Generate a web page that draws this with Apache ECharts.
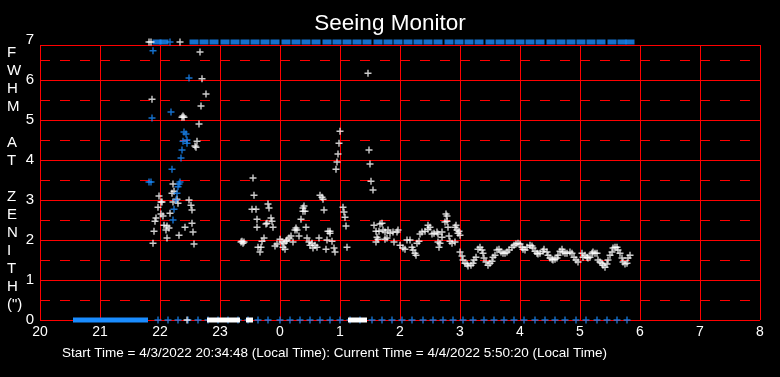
<!DOCTYPE html>
<html>
<head>
<meta charset="utf-8">
<script src="https://cdn.jsdelivr.net/npm/echarts@6/dist/echarts.min.js"></script>
<style>
html, body { margin: 0; background: #000; }
#main { width: 780px; height: 377px; }
</style>
</head>
<body>
<div id="main"></div>
<script>
// x = minutes after 20:00 local time, y = FWHM at zenith (arcsec)
var startHour = 20;
var topValue = 6.95;    // readings off the top of the scale
var bottomValue = 0;    // no reading

// white monitor, single readings
var whitePts = [
    [109, 6.95], [111, 6.95], [140, 6.95], [160, 6.7], [162, 6.03], [166, 5.65], [112, 5.52], [161, 5.35],
    [142, 5.07], [144, 5.07], [143, 5.1], [159, 4.9], [157, 4.47], [155, 4.35], [156, 4.32],
    [133, 3.4], [134, 3.22], [132, 3.17], [119, 3.1], [137, 3.02], [133, 2.95], [138, 2.92], [121, 2.95], [122, 2.95],
    [149, 3.0], [151, 2.87], [152, 2.75], [118, 2.82], [130, 2.67], [121, 2.65], [123, 2.6], [116, 2.55], [115, 2.47],
    [152, 2.42], [124, 2.37], [127, 2.35], [129, 2.3], [145, 2.32], [126, 2.25], [114, 2.22], [153, 2.2], [139, 2.12],
    [127, 2.05], [113, 1.92], [154, 1.9],
    [201, 1.95], [204, 1.95], [202, 1.97], [203, 1.92],
    [213, 3.55], [214, 3.12], [212, 2.77], [216, 2.77], [217, 2.52], [217, 2.32], [218, 1.82], [221, 1.82], [220, 1.7],
    [224, 2.05], [222, 1.97], [228, 2.9], [229, 2.8], [231, 2.55], [232, 2.47], [233, 2.32], [226, 2.4], [227, 2.42],
    [235, 1.85], [237, 1.9], [240, 2.02], [242, 1.95], [243, 1.82], [245, 1.77], [246, 1.97], [244, 1.92],
    [247, 2.0], [249, 2.05], [251, 2.1], [253, 1.95], [255, 2.25], [256, 2.3], [257, 2.25], [259, 2.1], [261, 2.52],
    [263, 2.72], [264, 2.85], [265, 2.72], [263, 2.8], [266, 2.32], [267, 2.05], [269, 1.95], [270, 1.87], [272, 1.92],
    [273, 1.8], [275, 1.87], [277, 1.82], [279, 2.05], [280, 3.12], [282, 3.07], [283, 3.02], [284, 2.75], [286, 1.77],
    [287, 2.0], [288, 2.22], [290, 2.22], [290, 2.17], [292, 1.97], [294, 1.8], [295, 1.7],
    [296, 3.77], [297, 3.95], [298, 4.15], [299, 4.42], [300, 4.72], [303, 2.82], [304, 2.7], [305, 2.57], [306, 2.35], [307, 1.82],
    [328, 6.17], [329, 4.25], [330, 3.9], [331, 3.47], [333, 3.25], [334, 2.37], [336, 2.22], [339, 2.22], [340, 2.4], [342, 2.42],
    [343, 2.25], [345, 2.2], [348, 2.25], [350, 2.17], [353, 2.2], [357, 2.2], [358, 2.25], [337, 2.07], [338, 2.02], [336, 1.95],
    [347, 2.05], [345, 2.02], [354, 1.95], [360, 1.87], [363, 1.8], [365, 1.77], [367, 2.0], [370, 2.0],
    [372, 1.82], [373, 1.75], [375, 1.67], [376, 1.62], [377, 1.92], [379, 1.97], [380, 2.15], [382, 2.2], [385, 2.22],
    [388, 2.27], [388, 2.37], [390, 2.32], [392, 2.15], [394, 2.17], [397, 2.2], [398, 2.15], [398, 1.95], [400, 1.92], [399, 1.82],
    [402, 2.2], [402, 2.07], [405, 2.45], [407, 2.47], [406, 2.65], [407, 2.6], [408, 2.32], [409, 2.1], [410, 1.97], [412, 1.92],
    [415, 1.95], [416, 2.37], [415, 2.32], [417, 2.25], [418, 2.17], [420, 2.12], [419, 2.22],
    [420, 1.7], [422, 1.6], [423, 1.5], [425, 1.42], [427, 1.4], [428, 1.35], [431, 1.37], [433, 1.42], [434, 1.5], [436, 1.57],
    [438, 1.77], [440, 1.82], [442, 1.75], [443, 1.67], [444, 1.55], [446, 1.45], [448, 1.37], [450, 1.42], [452, 1.47], [453, 1.57],
    [455, 1.62], [457, 1.75], [459, 1.77], [461, 1.7], [463, 1.67], [465, 1.67], [467, 1.7], [469, 1.75], [472, 1.82], [474, 1.87],
    [476, 1.9], [478, 1.92], [480, 1.9], [482, 1.82], [483, 1.77], [485, 1.75], [487, 1.82], [490, 1.87], [492, 1.85], [493, 1.8],
    [495, 1.72], [497, 1.67], [498, 1.65], [500, 1.67], [503, 1.72], [504, 1.77], [507, 1.7], [508, 1.62], [510, 1.55], [512, 1.52],
    [513, 1.5], [515, 1.52], [517, 1.55], [518, 1.62], [520, 1.72], [522, 1.77], [523, 1.7], [525, 1.67], [527, 1.67], [530, 1.7],
    [532, 1.67], [534, 1.57], [536, 1.5], [538, 1.45],
    [542, 1.67], [543, 1.57], [545, 1.62], [547, 1.57], [548, 1.55], [550, 1.57], [552, 1.67], [553, 1.7], [555, 1.67], [557, 1.67],
    [558, 1.5], [560, 1.45], [562, 1.42], [563, 1.37], [565, 1.32], [567, 1.4], [568, 1.5], [570, 1.62], [572, 1.7], [573, 1.8],
    [575, 1.82], [577, 1.82], [578, 1.75], [580, 1.67], [582, 1.55], [583, 1.45], [585, 1.4], [587, 1.42], [588, 1.55], [590, 1.62]
];
var whiteBottom = [147];
var whiteBands = [[167, 200], [206, 213], [308, 327]];

// blue monitor
var bluePts = [
    [113, 6.73], [149, 6.05], [131, 5.2], [112, 5.05], [144, 4.7], [146, 4.65], [143, 4.47], [147, 4.5], [147, 4.42],
    [142, 4.25], [141, 4.05], [132, 3.77], [109, 3.45], [111, 3.45], [140, 3.45], [139, 3.4], [138, 3.33],
    [137, 3.17], [136, 3.0], [134, 2.77], [133, 2.5], [130, 6.95]
];
var blueTop = [117, 124, 154, 164, 174, 185, 195, 205, 215, 225, 235, 246, 256, 266, 276, 287, 297, 307, 317, 327,
    338, 348, 358, 368, 378, 388, 398, 409, 419, 429, 439, 450, 460, 470, 480, 490, 500, 511, 521, 531, 541, 551,
    561, 572, 582, 590];
var blueBottom = [118, 128, 138, 148, 158, 168, 178, 188, 198, 208, 218, 228, 240, 250, 260, 270, 280, 290, 300, 310,
    320, 332, 342, 352, 362, 372, 383, 393, 403, 413, 423, 433, 444, 454, 464, 474, 484, 495, 505, 515, 525, 536,
    546, 557, 567, 577, 587];
var blueBands = [[33, 108]];

var white = '#ffffff';
var blue = '#1a8cff';
var red = '#ff0000';
var plus = 'path://M4,0H6V4H10V6H6V10H4V6H0V4H4Z';
var font = 'Liberation Sans, Arial, sans-serif';

var chart = echarts.init(document.getElementById('main'));

function bandSeries(bands, color, z) {
    return bands.map(function (b) {
        return {
            type: 'line', xAxisIndex: 0, yAxisIndex: 0,
            data: [[b[0], bottomValue], [b[1], bottomValue]],
            symbol: 'none', clip: false, silent: true, z: z,
            lineStyle: { color: color, width: 5 }
        };
    });
}

function plusSeries(data, color, z) {
    return {
        type: 'scatter', xAxisIndex: 0, yAxisIndex: 0,
        data: data, symbol: plus, symbolSize: 7, clip: false, silent: true, z: z,
        itemStyle: { color: color }
    };
}

var series = [].concat(
    bandSeries(blueBands, blue, 3),
    [
        {
            type: 'scatter', xAxisIndex: 0, yAxisIndex: 0,
            data: blueTop.map(function (m) { return [m, topValue]; }),
            symbol: 'rect', symbolSize: [9, 5], clip: false, silent: true, z: 3,
            itemStyle: { color: blue }
        },
        plusSeries(blueBottom.map(function (m) { return [m, bottomValue]; }), blue, 4),
        plusSeries(whiteBottom.map(function (m) { return [m, bottomValue]; }), white, 4),
        plusSeries(whitePts, white, 4),
        plusSeries(bluePts, blue, 5)
    ],
    bandSeries(whiteBands, white, 6)
);

var option = {
    backgroundColor: '#000',
    animation: false,
    title: {
        text: 'Seeing Monitor',
        left: 'center',
        top: 7,
        textStyle: { color: white, fontSize: 22.5, fontWeight: 'normal', fontFamily: font }
    },
    grid: [
        { left: 40, right: 20, top: 40, bottom: 57 },   // data
        { left: 40, right: 20, top: 45, bottom: 57 }    // frame
    ],
    xAxis: [{
        type: 'value', gridIndex: 0, min: 0, max: 720, interval: 60,
        axisLine: { show: false }, axisTick: { show: false }, splitLine: { show: false },
        axisLabel: {
            color: white, fontSize: 14, fontFamily: font, margin: 5,
            formatter: function (v) { return String((startHour + v / 60) % 24); }
        }
    }, {
        type: 'value', gridIndex: 1, min: 0, max: 720, interval: 60,
        axisLine: { show: false }, axisTick: { show: false }, axisLabel: { show: false },
        splitLine: { show: true, lineStyle: { color: red, width: 1 } }
    }],
    yAxis: [{
        type: 'value', gridIndex: 0, min: 0, max: 7, interval: 1,
        axisLine: { show: false }, axisTick: { show: false }, splitLine: { show: false },
        axisLabel: { color: white, fontSize: 15, fontFamily: font, margin: 6 }
    }, {
        type: 'value', gridIndex: 1, min: 0, max: 6.875, interval: 1,
        axisLine: { show: false }, axisTick: { show: false }, axisLabel: { show: false },
        splitLine: { show: true, lineStyle: { color: red, width: 1 } }
    }, {
        type: 'value', gridIndex: 1, min: 0, max: 6.875, interval: 0.5,
        axisLine: { show: false }, axisTick: { show: false }, axisLabel: { show: false },
        splitLine: { show: true, lineStyle: { color: red, width: 1, type: [10, 10] } }
    }],
    graphic: [{
        type: 'text', left: 7, top: 44,
        style: {
            text: 'F\nW\nH\nM\n\nA\nT\n\nZ\nE\nN\nI\nT\nH\n(")',
            fill: white, font: '15px ' + font, lineHeight: 18
        }
    }, {
        type: 'text', left: 62, top: 346,
        style: {
            text: 'Start Time = 4/3/2022 20:34:48 (Local Time): Current Time = 4/4/2022 5:50:20 (Local Time)',
            fill: white, font: '13.5px ' + font
        }
    }],
    series: series
};

chart.setOption(option);
</script>
</body>
</html>
